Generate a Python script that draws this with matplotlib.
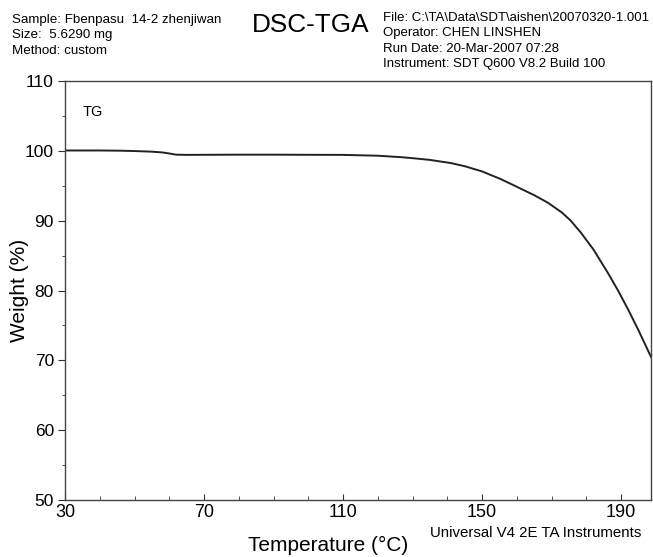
import matplotlib
matplotlib.use("Agg")
import matplotlib.pyplot as plt
from matplotlib.ticker import MultipleLocator

plt.rcParams['font.family'] = ['Liberation Sans', 'DejaVu Sans']

temperature = [30, 40, 46, 50, 55, 58, 60, 62, 65, 70, 80, 90, 100, 110, 120, 126.5,
               130, 135, 141, 145, 150, 155.4, 160, 165, 169, 173, 175.5, 178.4, 182,
               186.1, 189, 192, 195, 198.6]
weight = [100.05, 100.05, 100.02, 99.97, 99.88, 99.77, 99.62, 99.45, 99.42, 99.43, 99.45,
          99.45, 99.43, 99.42, 99.3, 99.1, 98.95, 98.7, 98.25, 97.8, 97.05, 95.95, 94.85,
          93.65, 92.55, 91.15, 90.0, 88.3, 85.9, 82.6, 80.1, 77.3, 74.3, 70.5]
x_ticks = [30, 70, 110, 150, 190]
y_ticks = [50, 60, 70, 80, 90, 100, 110]

W, H = 653, 557
fig = plt.figure(figsize=(W/100, H/100), dpi=100)
ax = fig.add_axes([65/W, 1-500/H, (651-65)/W, (500-81)/H])
ax.plot(temperature, weight, color='#222222', lw=1.4)
ax.set_xlim(30, 198.6)
ax.set_ylim(50, 110)
ax.set_xticks(x_ticks)
ax.set_yticks(y_ticks)
ax.xaxis.set_minor_locator(MultipleLocator(10))
ax.yaxis.set_minor_locator(MultipleLocator(5))
ax.tick_params(axis='x', which='both', direction='in', labelsize=13, pad=3, color='#333333')
ax.tick_params(axis='x', which='major', length=4)
ax.tick_params(axis='x', which='minor', length=3)
ax.tick_params(axis='y', which='both', direction='out', labelsize=12.5, pad=3, color='#333333')
ax.tick_params(axis='y', which='major', length=5)
ax.tick_params(axis='y', which='minor', length=2)
for s in ax.spines.values():
    s.set_color('#444444')
    s.set_linewidth(1.0)

ax.text(35, 105.6, 'TG', fontsize=10.5, va='center', ha='left')

fig.text(328/W, 1-545/H, 'Temperature (°C)', fontsize=15, ha='center', va='center')
fig.text(20/W, 1-290/H, 'Weight (%)', fontsize=15, ha='center', va='center', rotation=90)
fig.text(430/W, 1-533/H, 'Universal V4 2E TA Instruments', fontsize=10.8, ha='left', va='center')

fig.text(12/W, 1-20/H, 'Sample: Fbenpasu  14-2 zhenjiwan', fontsize=9.6, ha='left', va='center')
fig.text(12/W, 1-35/H, 'Size:  5.6290 mg', fontsize=9.6, ha='left', va='center')
fig.text(12/W, 1-51/H, 'Method: custom', fontsize=9.6, ha='left', va='center')
fig.text(252/W, 1-25/H, 'DSC-TGA', fontsize=18.8, ha='left', va='center')
fig.text(383/W, 1-18/H, 'File: C:\\TA\\Data\\SDT\\aishen\\20070320-1.001', fontsize=9.5, ha='left', va='center')
fig.text(383/W, 1-33/H, 'Operator: CHEN LINSHEN', fontsize=9.5, ha='left', va='center')
fig.text(383/W, 1-49/H, 'Run Date: 20-Mar-2007 07:28', fontsize=9.5, ha='left', va='center')
fig.text(383/W, 1-64/H, 'Instrument: SDT Q600 V8.2 Build 100', fontsize=9.5, ha='left', va='center')

fig.savefig('out.png', dpi=100)
